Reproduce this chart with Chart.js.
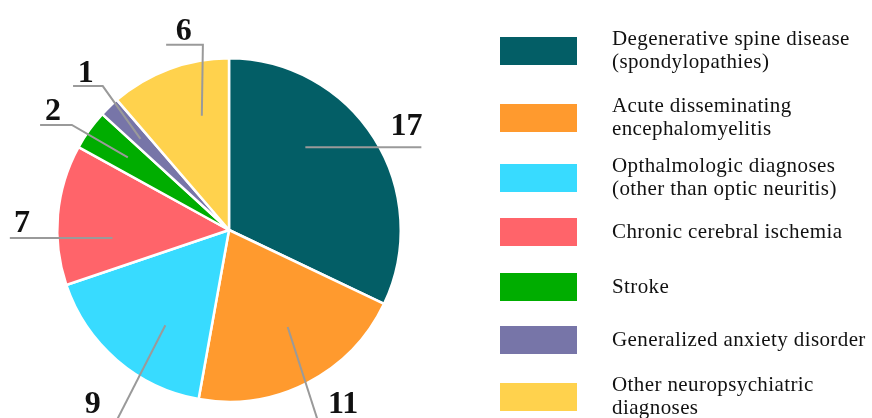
<!DOCTYPE html>
<html>
<head>
<meta charset="utf-8">
<script src="https://cdn.jsdelivr.net/npm/chart.js@4"></script>
<style>
  html, body { margin: 0; padding: 0; background: #fff; }
  #wrap { width: 872px; height: 418px; }
</style>
</head>
<body>
<div id="wrap"><canvas id="pieChart" width="872" height="418"></canvas></div>
<script>

  // ---- data ----
  const diagnoses = [
    ["Degenerative spine disease", "(spondylopathies)"],
    ["Acute disseminating", "encephalomyelitis"],
    ["Opthalmologic diagnoses", "(other than optic neuritis)"],
    ["Chronic cerebral ischemia"],
    ["Stroke"],
    ["Generalized anxiety disorder"],
    ["Other neuropsychiatric", "diagnoses"]
  ];
  const patientCounts = [17, 11, 9, 7, 2, 1, 6];
  const sliceColors = ["#035e66", "#ff9a2e", "#38dbff", "#ff646a", "#00ad00", "#7775a8", "#ffd24d"];

  // leader lines: angle nudge (deg) and radius fraction for the inner end,
  // then the path / label in units of the pie radius, relative to centre
  const leaderLayout = [
    { nudge: -15, frac: 0.655, path: [[1.12, null]],                label: [0.94, -0.556] },
    { nudge: -4,  frac: 0.66,  path: [[0.53, 1.15]],                label: [0.576, 1.066] },
    { nudge: -7,  frac: 0.667, path: [[-0.675, 1.15]],              label: [-0.84, 1.066] },
    { nudge: -9,  frac: 0.68,  path: [[-1.276, null]],              label: [-1.252, 0.012] },
    { nudge: 0,   frac: 0.725, path: [[-0.915, -0.612], [-1.10, -0.612]], label: [-1.072, -0.641] },
    { nudge: 0,   frac: 0.74,  path: [[-0.735, -0.838], [-0.908, -0.838]], label: [-0.88, -0.862] },
    { nudge: 7,   frac: 0.684, path: [[-0.152, -1.078], [-0.366, -1.078]], label: [-0.31, -1.107] }
  ];

  // legend item centres (y) – spacing in the source is uneven
  const legendRows = [51, 118, 178, 232, 287, 340, 397];

  /**======================================================================================
   *                        leader lines + value labels
   ======================================================================================*/
  const leaderPlugin = {
    id: "leaders",
    afterDatasetsDraw(chart) {
      const ctx = chart.ctx;
      const meta = chart.getDatasetMeta(0);
      ctx.save();
      meta.data.forEach((arc, i) => {
        const p = arc.getProps(["x", "y", "startAngle", "endAngle", "outerRadius"], true);
        const lay = leaderLayout[i];
        const r = p.outerRadius;
        const mid = (p.startAngle + p.endAngle) / 2 + lay.nudge * Math.PI / 180;
        const x0 = p.x + Math.cos(mid) * r * lay.frac;
        const y0 = p.y + Math.sin(mid) * r * lay.frac;

        ctx.strokeStyle = "#9a9a9a";
        ctx.lineWidth = 2;
        ctx.beginPath();
        ctx.moveTo(x0, y0);
        lay.path.forEach(pt => {
          const px = p.x + pt[0] * r;
          const py = pt[1] === null ? y0 : p.y + pt[1] * r;
          ctx.lineTo(px, py);
        });
        ctx.stroke();

        ctx.fillStyle = "#111";
        ctx.font = "bold 32px 'Liberation Serif', serif";
        ctx.textAlign = "left";
        ctx.textBaseline = "alphabetic";
        ctx.fillText(String(chart.data.datasets[0].data[i]), p.x + lay.label[0] * r, p.y + lay.label[1] * r);
      });
      ctx.restore();
    }
  };

  /**======================================================================================
   *                        legend on the right
   ======================================================================================*/
  const legendPlugin = {
    id: "sideLegend",
    afterDraw(chart) {
      const ctx = chart.ctx;
      const ds = chart.data.datasets[0];
      ctx.save();
      chart.data.labels.forEach((lines, i) => {
        const cy = legendRows[i];
        ctx.fillStyle = ds.backgroundColor[i];
        ctx.fillRect(500, cy - 14, 77, 28);

        ctx.fillStyle = "#111";
        ctx.font = "21px 'Liberation Serif', serif";
        ctx.letterSpacing = "0.4px";
        ctx.textAlign = "left";
        ctx.textBaseline = "middle";
        const lh = 23.5;
        const top = cy - (lines.length - 1) * lh / 2;
        lines.forEach((t, k) => ctx.fillText(t, 612, top + k * lh));
      });
      ctx.restore();
    }
  };

  const pieChart = new Chart(document.getElementById("pieChart"), {
    type: "pie",
    data: {
      labels: diagnoses,
      datasets: [{
        data: patientCounts,
        backgroundColor: sliceColors,
        borderColor: "#ffffff",
        borderWidth: 2.5
      }]
    },
    options: {
      responsive: false,
      animation: false,
      layout: { padding: { left: 56, top: 57, right: 470, bottom: 15 } },
      plugins: {
        legend: { display: false },
        tooltip: { enabled: false }
      }
    },
    plugins: [leaderPlugin, legendPlugin]
  });

</script>
</body>
</html>
